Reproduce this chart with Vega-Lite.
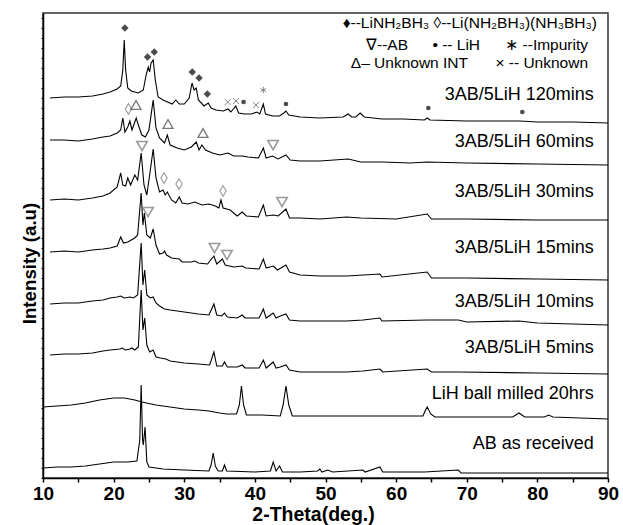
{
"$schema": "https://vega.github.io/schema/vega-lite/v6.json",
"width": 565, "height": 465,
"autosize": {"type": "none"},
"padding": {"left": 43, "top": 13, "right": 15, "bottom": 47},
"background": "white",
"config": {"view": {"stroke": "#333", "strokeWidth": 1.5}, "font": "Liberation Sans"},
"datasets": {
"xrd": [
{"s":"120","t":11.0,"i":380},{"s":"120","t":13,"i":381},{"s":"120","t":15,"i":381},{"s":"120","t":17,"i":382},{"s":"120","t":18.5,"i":384},{"s":"120","t":19.5,"i":386},{"s":"120","t":20.5,"i":389},{"s":"120","t":21.0,"i":392},{"s":"120","t":21.3,"i":408},{"s":"120","t":21.5,"i":438},{"s":"120","t":21.7,"i":408},{"s":"120","t":22.0,"i":390},{"s":"120","t":22.5,"i":387},{"s":"120","t":23.0,"i":386},{"s":"120","t":23.5,"i":385},{"s":"120","t":24.2,"i":388},{"s":"120","t":24.6,"i":403},{"s":"120","t":24.9,"i":411},{"s":"120","t":25.1,"i":406},{"s":"120","t":25.3,"i":415},{"s":"120","t":25.6,"i":418},{"s":"120","t":25.9,"i":398},{"s":"120","t":26.3,"i":381},{"s":"120","t":27.0,"i":378},{"s":"120","t":28.3,"i":374},{"s":"120","t":28.8,"i":378},{"s":"120","t":29.3,"i":374},{"s":"120","t":30.0,"i":374},{"s":"120","t":30.7,"i":380},{"s":"120","t":31.1,"i":395},{"s":"120","t":31.4,"i":388},{"s":"120","t":31.7,"i":390},{"s":"120","t":32.0,"i":378},{"s":"120","t":32.8,"i":372},{"s":"120","t":33.4,"i":375},{"s":"120","t":33.8,"i":370},{"s":"120","t":34.5,"i":368},{"s":"120","t":35.5,"i":367},{"s":"120","t":36.2,"i":369},{"s":"120","t":36.6,"i":366},{"s":"120","t":37.3,"i":372},{"s":"120","t":37.7,"i":365},{"s":"120","t":38.5,"i":364},{"s":"120","t":39.5,"i":364},{"s":"120","t":40.3,"i":366},{"s":"120","t":40.7,"i":364},{"s":"120","t":41.2,"i":374},{"s":"120","t":41.5,"i":364},{"s":"120","t":42.5,"i":362},{"s":"120","t":43.5,"i":362},{"s":"120","t":44.1,"i":365},{"s":"120","t":44.4,"i":367},{"s":"120","t":44.8,"i":363},{"s":"120","t":46.4,"i":361},{"s":"120","t":49.2,"i":360},{"s":"120","t":52.5,"i":361},{"s":"120","t":53.2,"i":364},{"s":"120","t":53.7,"i":361},{"s":"120","t":54.3,"i":361},{"s":"120","t":54.9,"i":365},{"s":"120","t":55.5,"i":361},{"s":"120","t":58,"i":359},{"s":"120","t":61,"i":359},{"s":"120","t":64.0,"i":358},{"s":"120","t":64.4,"i":360},{"s":"120","t":64.8,"i":358},{"s":"120","t":70,"i":357},{"s":"120","t":77.5,"i":357},{"s":"120","t":80,"i":356},{"s":"120","t":85,"i":356},{"s":"120","t":90,"i":355},
{"s":"60","t":11.0,"i":338},{"s":"60","t":13,"i":338},{"s":"60","t":15,"i":337},{"s":"60","t":17,"i":339},{"s":"60","t":18.5,"i":341},{"s":"60","t":19.5,"i":342},{"s":"60","t":20.5,"i":345},{"s":"60","t":21.0,"i":348},{"s":"60","t":21.3,"i":360},{"s":"60","t":21.6,"i":346},{"s":"60","t":22.0,"i":351},{"s":"60","t":22.3,"i":357},{"s":"60","t":22.6,"i":348},{"s":"60","t":23.2,"i":360},{"s":"60","t":23.5,"i":353},{"s":"60","t":24.0,"i":343},{"s":"60","t":24.5,"i":341},{"s":"60","t":25.0,"i":348},{"s":"60","t":25.6,"i":378},{"s":"60","t":26.0,"i":350},{"s":"60","t":26.5,"i":340},{"s":"60","t":27.2,"i":335},{"s":"60","t":27.6,"i":343},{"s":"60","t":28.0,"i":333},{"s":"60","t":29.0,"i":330},{"s":"60","t":30.0,"i":328},{"s":"60","t":31.0,"i":331},{"s":"60","t":31.7,"i":336},{"s":"60","t":32.1,"i":328},{"s":"60","t":32.5,"i":333},{"s":"60","t":33.0,"i":328},{"s":"60","t":34.0,"i":325},{"s":"60","t":35.0,"i":323},{"s":"60","t":36.2,"i":325},{"s":"60","t":37.0,"i":322},{"s":"60","t":38.2,"i":322},{"s":"60","t":39.0,"i":321},{"s":"60","t":40.5,"i":320},{"s":"60","t":41.2,"i":330},{"s":"60","t":41.6,"i":320},{"s":"60","t":42.5,"i":322},{"s":"60","t":43.3,"i":319},{"s":"60","t":44.4,"i":323},{"s":"60","t":45.0,"i":318},{"s":"60","t":46.4,"i":317},{"s":"60","t":49.2,"i":317},{"s":"60","t":53.2,"i":319},{"s":"60","t":55,"i":316},{"s":"60","t":58,"i":316},{"s":"60","t":62,"i":315},{"s":"60","t":64.4,"i":316},{"s":"60","t":70,"i":315},{"s":"60","t":80,"i":314},{"s":"60","t":90,"i":313},
{"s":"30","t":11.0,"i":278},{"s":"30","t":13,"i":279},{"s":"30","t":15,"i":278},{"s":"30","t":17,"i":280},{"s":"30","t":18.5,"i":282},{"s":"30","t":19.5,"i":285},{"s":"30","t":20.5,"i":291},{"s":"30","t":21.0,"i":305},{"s":"30","t":21.3,"i":293},{"s":"30","t":21.7,"i":292},{"s":"30","t":22.0,"i":300},{"s":"30","t":22.4,"i":293},{"s":"30","t":23.0,"i":303},{"s":"30","t":23.4,"i":298},{"s":"30","t":23.9,"i":325},{"s":"30","t":24.3,"i":293},{"s":"30","t":24.7,"i":283},{"s":"30","t":25.1,"i":303},{"s":"30","t":25.6,"i":329},{"s":"30","t":26.0,"i":300},{"s":"30","t":26.5,"i":286},{"s":"30","t":27.0,"i":288},{"s":"30","t":27.3,"i":283},{"s":"30","t":27.6,"i":286},{"s":"30","t":28.2,"i":278},{"s":"30","t":28.8,"i":275},{"s":"30","t":29.3,"i":281},{"s":"30","t":29.7,"i":275},{"s":"30","t":30.5,"i":274},{"s":"30","t":31.5,"i":276},{"s":"30","t":32.5,"i":273},{"s":"30","t":33.5,"i":274},{"s":"30","t":34.4,"i":272},{"s":"30","t":34.9,"i":270},{"s":"30","t":35.2,"i":278},{"s":"30","t":35.5,"i":270},{"s":"30","t":36.5,"i":268},{"s":"30","t":37.5,"i":262},{"s":"30","t":38.2,"i":266},{"s":"30","t":38.8,"i":262},{"s":"30","t":40.5,"i":261},{"s":"30","t":41.2,"i":273},{"s":"30","t":41.6,"i":262},{"s":"30","t":42.6,"i":263},{"s":"30","t":43.3,"i":262},{"s":"30","t":44.4,"i":269},{"s":"30","t":44.9,"i":260},{"s":"30","t":46.4,"i":260},{"s":"30","t":49.2,"i":259},{"s":"30","t":53,"i":261},{"s":"30","t":55,"i":260},{"s":"30","t":60,"i":259},{"s":"30","t":64.4,"i":264},{"s":"30","t":65,"i":259},{"s":"30","t":70,"i":259},{"s":"30","t":80,"i":258},{"s":"30","t":90,"i":258},
{"s":"15","t":11.0,"i":226},{"s":"15","t":13,"i":227},{"s":"15","t":15,"i":226},{"s":"15","t":17,"i":228},{"s":"15","t":18.5,"i":229},{"s":"15","t":19.5,"i":230},{"s":"15","t":20.5,"i":232},{"s":"15","t":21.0,"i":241},{"s":"15","t":21.4,"i":235},{"s":"15","t":22.0,"i":236},{"s":"15","t":22.5,"i":238},{"s":"15","t":23.0,"i":240},{"s":"15","t":23.4,"i":243},{"s":"15","t":23.9,"i":285},{"s":"15","t":24.15,"i":253},{"s":"15","t":24.35,"i":265},{"s":"15","t":24.7,"i":243},{"s":"15","t":25.2,"i":240},{"s":"15","t":25.6,"i":249},{"s":"15","t":26.0,"i":233},{"s":"15","t":26.5,"i":224},{"s":"15","t":27.0,"i":225},{"s":"15","t":27.2,"i":227},{"s":"15","t":27.5,"i":223},{"s":"15","t":28.2,"i":220},{"s":"15","t":29.3,"i":219},{"s":"15","t":29.7,"i":216},{"s":"15","t":31.0,"i":216},{"s":"15","t":31.5,"i":217},{"s":"15","t":32.0,"i":215},{"s":"15","t":33.3,"i":214},{"s":"15","t":34.2,"i":222},{"s":"15","t":34.6,"i":214},{"s":"15","t":35.4,"i":219},{"s":"15","t":35.8,"i":213},{"s":"15","t":37.0,"i":211},{"s":"15","t":38.2,"i":212},{"s":"15","t":38.7,"i":210},{"s":"15","t":40.6,"i":209},{"s":"15","t":41.2,"i":219},{"s":"15","t":41.6,"i":210},{"s":"15","t":42.6,"i":212},{"s":"15","t":43.2,"i":208},{"s":"15","t":44.4,"i":213},{"s":"15","t":44.9,"i":206},{"s":"15","t":46.4,"i":203},{"s":"15","t":49.2,"i":202},{"s":"15","t":53,"i":202},{"s":"15","t":57.7,"i":204},{"s":"15","t":58,"i":201},{"s":"15","t":64.4,"i":206},{"s":"15","t":65,"i":200},{"s":"15","t":70,"i":200},{"s":"15","t":80,"i":199},{"s":"15","t":90,"i":198},
{"s":"10","t":11.0,"i":174},{"s":"10","t":13,"i":175},{"s":"10","t":15,"i":175},{"s":"10","t":17,"i":177},{"s":"10","t":18.5,"i":178},{"s":"10","t":19.5,"i":180},{"s":"10","t":20.5,"i":181},{"s":"10","t":21.0,"i":182},{"s":"10","t":21.5,"i":180},{"s":"10","t":22.3,"i":181},{"s":"10","t":22.8,"i":180},{"s":"10","t":23.4,"i":183},{"s":"10","t":23.9,"i":235},{"s":"10","t":24.15,"i":193},{"s":"10","t":24.4,"i":208},{"s":"10","t":24.7,"i":183},{"s":"10","t":25.2,"i":180},{"s":"10","t":25.6,"i":181},{"s":"10","t":26.0,"i":175},{"s":"10","t":26.5,"i":172},{"s":"10","t":27.2,"i":169},{"s":"10","t":28.0,"i":168},{"s":"10","t":29.0,"i":167},{"s":"10","t":30.0,"i":166},{"s":"10","t":31.0,"i":165},{"s":"10","t":32.0,"i":164},{"s":"10","t":33.5,"i":163},{"s":"10","t":34.2,"i":174},{"s":"10","t":34.6,"i":163},{"s":"10","t":35.3,"i":162},{"s":"10","t":35.7,"i":165},{"s":"10","t":36.1,"i":161},{"s":"10","t":37.5,"i":160},{"s":"10","t":38.2,"i":163},{"s":"10","t":38.6,"i":160},{"s":"10","t":40.6,"i":160},{"s":"10","t":41.2,"i":169},{"s":"10","t":41.6,"i":160},{"s":"10","t":42.6,"i":165},{"s":"10","t":43.0,"i":160},{"s":"10","t":43.6,"i":162},{"s":"10","t":44.4,"i":164},{"s":"10","t":44.9,"i":158},{"s":"10","t":46.4,"i":157},{"s":"10","t":49.2,"i":157},{"s":"10","t":53,"i":157},{"s":"10","t":55.3,"i":158},{"s":"10","t":57.7,"i":160},{"s":"10","t":58,"i":157},{"s":"10","t":64.4,"i":158},{"s":"10","t":68.8,"i":158},{"s":"10","t":70,"i":156},{"s":"10","t":77.4,"i":157},{"s":"10","t":80,"i":155},{"s":"10","t":90,"i":153},
{"s":"5","t":11.0,"i":123},{"s":"5","t":13,"i":124},{"s":"5","t":15,"i":124},{"s":"5","t":17,"i":125},{"s":"5","t":18.5,"i":127},{"s":"5","t":19.5,"i":128},{"s":"5","t":20.9,"i":129},{"s":"5","t":21.2,"i":130},{"s":"5","t":21.7,"i":128},{"s":"5","t":22.3,"i":129},{"s":"5","t":22.6,"i":130},{"s":"5","t":23.0,"i":128},{"s":"5","t":23.5,"i":131},{"s":"5","t":23.9,"i":188},{"s":"5","t":24.15,"i":148},{"s":"5","t":24.4,"i":160},{"s":"5","t":24.7,"i":133},{"s":"5","t":25.1,"i":126},{"s":"5","t":25.6,"i":128},{"s":"5","t":26.0,"i":121},{"s":"5","t":26.6,"i":120},{"s":"5","t":27.4,"i":119},{"s":"5","t":28.0,"i":117},{"s":"5","t":30,"i":115},{"s":"5","t":32,"i":114},{"s":"5","t":33.6,"i":113},{"s":"5","t":34.2,"i":126},{"s":"5","t":34.6,"i":112},{"s":"5","t":35.4,"i":112},{"s":"5","t":35.7,"i":116},{"s":"5","t":36.1,"i":111},{"s":"5","t":37.5,"i":111},{"s":"5","t":38.2,"i":113},{"s":"5","t":38.6,"i":110},{"s":"5","t":40.6,"i":110},{"s":"5","t":41.2,"i":118},{"s":"5","t":41.6,"i":110},{"s":"5","t":42.6,"i":116},{"s":"5","t":43.0,"i":110},{"s":"5","t":43.6,"i":111},{"s":"5","t":44.4,"i":113},{"s":"5","t":44.9,"i":108},{"s":"5","t":46.4,"i":106},{"s":"5","t":49.2,"i":106},{"s":"5","t":53,"i":106},{"s":"5","t":55.3,"i":107},{"s":"5","t":57.7,"i":109},{"s":"5","t":58.1,"i":106},{"s":"5","t":64.4,"i":109},{"s":"5","t":65,"i":106},{"s":"5","t":68.8,"i":106},{"s":"5","t":80,"i":105},{"s":"5","t":90,"i":104},
{"s":"LiH","t":10.0,"i":71},{"s":"LiH","t":12,"i":72},{"s":"LiH","t":14,"i":73},{"s":"LiH","t":16,"i":75},{"s":"LiH","t":18,"i":78},{"s":"LiH","t":20,"i":80},{"s":"LiH","t":21.5,"i":80},{"s":"LiH","t":23,"i":78},{"s":"LiH","t":24,"i":76},{"s":"LiH","t":26,"i":73},{"s":"LiH","t":28,"i":71},{"s":"LiH","t":30,"i":69},{"s":"LiH","t":32,"i":68},{"s":"LiH","t":33.5,"i":67},{"s":"LiH","t":35,"i":65},{"s":"LiH","t":36,"i":64},{"s":"LiH","t":37.4,"i":64},{"s":"LiH","t":37.8,"i":73},{"s":"LiH","t":38.1,"i":92},{"s":"LiH","t":38.4,"i":73},{"s":"LiH","t":38.8,"i":63},{"s":"LiH","t":41,"i":63},{"s":"LiH","t":43.6,"i":62},{"s":"LiH","t":44.0,"i":73},{"s":"LiH","t":44.4,"i":92},{"s":"LiH","t":44.8,"i":73},{"s":"LiH","t":45.3,"i":62},{"s":"LiH","t":50,"i":62},{"s":"LiH","t":60,"i":62},{"s":"LiH","t":63.8,"i":62},{"s":"LiH","t":64.1,"i":67},{"s":"LiH","t":64.4,"i":71},{"s":"LiH","t":64.9,"i":64},{"s":"LiH","t":65.5,"i":61},{"s":"LiH","t":70,"i":61},{"s":"LiH","t":76.5,"i":61},{"s":"LiH","t":77.4,"i":65},{"s":"LiH","t":78.2,"i":61},{"s":"LiH","t":81,"i":61},{"s":"LiH","t":81.6,"i":63},{"s":"LiH","t":82.2,"i":61},{"s":"LiH","t":90,"i":59},
{"s":"AB","t":10,"i":10},{"s":"AB","t":12,"i":11},{"s":"AB","t":14,"i":11},{"s":"AB","t":16,"i":12},{"s":"AB","t":18,"i":14},{"s":"AB","t":20,"i":16},{"s":"AB","t":22,"i":16},{"s":"AB","t":23.3,"i":17},{"s":"AB","t":23.7,"i":38},{"s":"AB","t":23.9,"i":93},{"s":"AB","t":24.1,"i":38},{"s":"AB","t":24.2,"i":33},{"s":"AB","t":24.45,"i":51},{"s":"AB","t":24.7,"i":16},{"s":"AB","t":25.0,"i":11},{"s":"AB","t":27,"i":9},{"s":"AB","t":30,"i":8},{"s":"AB","t":33.5,"i":7},{"s":"AB","t":33.8,"i":13},{"s":"AB","t":34.1,"i":25},{"s":"AB","t":34.4,"i":12},{"s":"AB","t":34.8,"i":7},{"s":"AB","t":35.4,"i":7},{"s":"AB","t":35.7,"i":13},{"s":"AB","t":36.0,"i":7},{"s":"AB","t":40,"i":6},{"s":"AB","t":42.2,"i":7},{"s":"AB","t":42.6,"i":16},{"s":"AB","t":43.0,"i":7},{"s":"AB","t":43.5,"i":12},{"s":"AB","t":43.9,"i":6},{"s":"AB","t":46.4,"i":6},{"s":"AB","t":48.9,"i":7},{"s":"AB","t":49.2,"i":9},{"s":"AB","t":49.5,"i":6},{"s":"AB","t":50.3,"i":8},{"s":"AB","t":51,"i":6},{"s":"AB","t":55.3,"i":8},{"s":"AB","t":55.6,"i":6},{"s":"AB","t":57.7,"i":11},{"s":"AB","t":58.1,"i":6},{"s":"AB","t":64,"i":6},{"s":"AB","t":68.8,"i":8},{"s":"AB","t":69.2,"i":5},{"s":"AB","t":80,"i":5},{"s":"AB","t":90,"i":5}
],
"peaks": [
{"m":"LiNH2BH3","t":21.6,"i":450},{"m":"LiNH2BH3","t":24.8,"i":421},{"m":"LiNH2BH3","t":25.76,"i":426},{"m":"LiNH2BH3","t":31.14,"i":406},{"m":"LiNH2BH3","t":32.1,"i":400},{"m":"LiNH2BH3","t":33.27,"i":384},
{"m":"Unknown","t":36.15,"i":376},{"m":"Unknown","t":37.33,"i":377},{"m":"Unknown","t":40.16,"i":373},
{"m":"LiH","t":38.4,"i":376},{"m":"LiH","t":44.4,"i":374},{"m":"LiH","t":64.56,"i":370},{"m":"LiH","t":77.87,"i":366},
{"m":"Impurity","t":41.2,"i":388},
{"m":"LiAB","t":22.1,"i":369},{"m":"LiAB","t":27.13,"i":300},{"m":"LiAB","t":29.26,"i":294},{"m":"LiAB","t":35.49,"i":287},
{"m":"INT","t":23.17,"i":373},{"m":"INT","t":27.7,"i":354},{"m":"INT","t":32.65,"i":345},
{"m":"AB","t":42.57,"i":333},{"m":"AB","t":24.02,"i":332},{"m":"AB","t":43.84,"i":276},{"m":"AB","t":24.87,"i":266},{"m":"AB","t":34.28,"i":230},{"m":"AB","t":36.05,"i":223}
],
"labels": [
{"label":"3AB/5LiH 120mins","t":88.0,"i":383},
{"label":"3AB/5LiH 60mins","t":88.0,"i":336},
{"label":"3AB/5LiH 30mins","t":88.0,"i":286},
{"label":"3AB/5LiH 15mins","t":88.0,"i":230},
{"label":"3AB/5LiH 10mins","t":88.0,"i":176},
{"label":"3AB/5LiH 5mins","t":88.0,"i":130},
{"label":"LiH ball milled 20hrs","t":88.0,"i":84},
{"label":"AB as received","t":88.0,"i":34}
],
"key": [
{"label":"♦--LiNH₂BH₃ ◊--Li(NH₂BH₃)(NH₃BH₃)","t":88.44,"i":455},
{"label":"∇--AB","t":61.68,"i":433},
{"label":"• -- LiH","t":71.88,"i":433},
{"label":"∗ --Impurity","t":87.17,"i":433},
{"label":"Δ– Unknown INT","t":70.18,"i":415},
{"label":"× -- Unknown","t":87.17,"i":415}
]
},
"encoding": {
"x": {"field":"t","type":"quantitative","scale":{"domain":[10,90],"nice":false,"zero":false},
 "axis":{"values":[10,15,20,25,30,35,40,45,50,55,60,65,70,75,80,85,90],"labelExpr":"datum.value % 10 === 0 ? datum.label : ''","title":"2-Theta(deg.)","grid":false,"tickSize":4,"tickColor":"black","tickWidth":1.5,"domainColor":"black","domainWidth":1.5,"labelFont":"Liberation Sans","labelFontWeight":"bold","labelFontSize":19,"labelColor":"black","labelPadding":2,"labelFlush":false,"labelBaseline":"top","titleFont":"Liberation Sans","titleFontWeight":"bold","titleFontSize":19.5,"titleColor":"black","titleX":270,"titleY":42,"titleBaseline":"alphabetic","titleAlign":"center"}},
"y": {"field":"i","type":"quantitative","scale":{"domain":[0,465],"nice":false,"zero":false},
 "axis":{"tickCount":46,"labels":false,"title":"Intensity (a.u)","grid":false,"tickSize":2,"tickColor":"black","tickWidth":1,"domainColor":"black","domainWidth":1.5,"titleFont":"Liberation Sans","titleFontWeight":"bold","titleFontSize":18.7,"titleColor":"black","titleX":-8,"titleY":250,"titleAngle":-90,"titleBaseline":"alphabetic","titleAlign":"center"}}
},
"layer": [
{"data":{"name":"xrd"},"mark":{"type":"line","color":"black","strokeWidth":1.1},"encoding":{"detail":{"field":"s","type":"nominal"}}},
{"data":{"name":"peaks"},"transform":[{"filter":"datum.m === 'LiNH2BH3'"}],"mark":{"type":"point","shape":"diamond","filled":true,"color":"black","size":55}},
{"data":{"name":"peaks"},"transform":[{"filter":"datum.m === 'LiAB'"}],"mark":{"type":"point","shape":"M0,-1L0.6,0L0,1L-0.6,0Z","filled":false,"stroke":"#777","strokeWidth":1.2,"size":110}},
{"data":{"name":"peaks"},"transform":[{"filter":"datum.m === 'AB'"}],"mark":{"type":"point","shape":"triangle-down","filled":false,"stroke":"#707070","strokeWidth":1.6,"size":110}},
{"data":{"name":"peaks"},"transform":[{"filter":"datum.m === 'INT'"}],"mark":{"type":"point","shape":"triangle-up","filled":false,"stroke":"#404040","strokeWidth":1.3,"size":100}},
{"data":{"name":"peaks"},"transform":[{"filter":"datum.m === 'LiH'"}],"mark":{"type":"point","shape":"circle","filled":true,"color":"black","size":22}},
{"data":{"name":"peaks"},"transform":[{"filter":"datum.m === 'Unknown'"}],"mark":{"type":"point","shape":"M-1,-1L1,1M-1,1L1,-1","filled":false,"stroke":"#555","strokeWidth":1,"size":36}},
{"data":{"name":"peaks"},"transform":[{"filter":"datum.m === 'Impurity'"}],"mark":{"type":"point","shape":"M0,-1L0,1M-0.87,-0.5L0.87,0.5M-0.87,0.5L0.87,-0.5","filled":false,"stroke":"#555","strokeWidth":1,"size":40}},
{"data":{"name":"labels"},"mark":{"type":"text","align":"right","baseline":"middle","font":"Liberation Sans","fontSize":18,"color":"black"},"encoding":{"text":{"field":"label"}}},
{"data":{"name":"key"},"mark":{"type":"text","align":"right","baseline":"middle","font":"Liberation Sans","fontSize":15.5,"color":"black"},"encoding":{"text":{"field":"label"}}}
]
}
